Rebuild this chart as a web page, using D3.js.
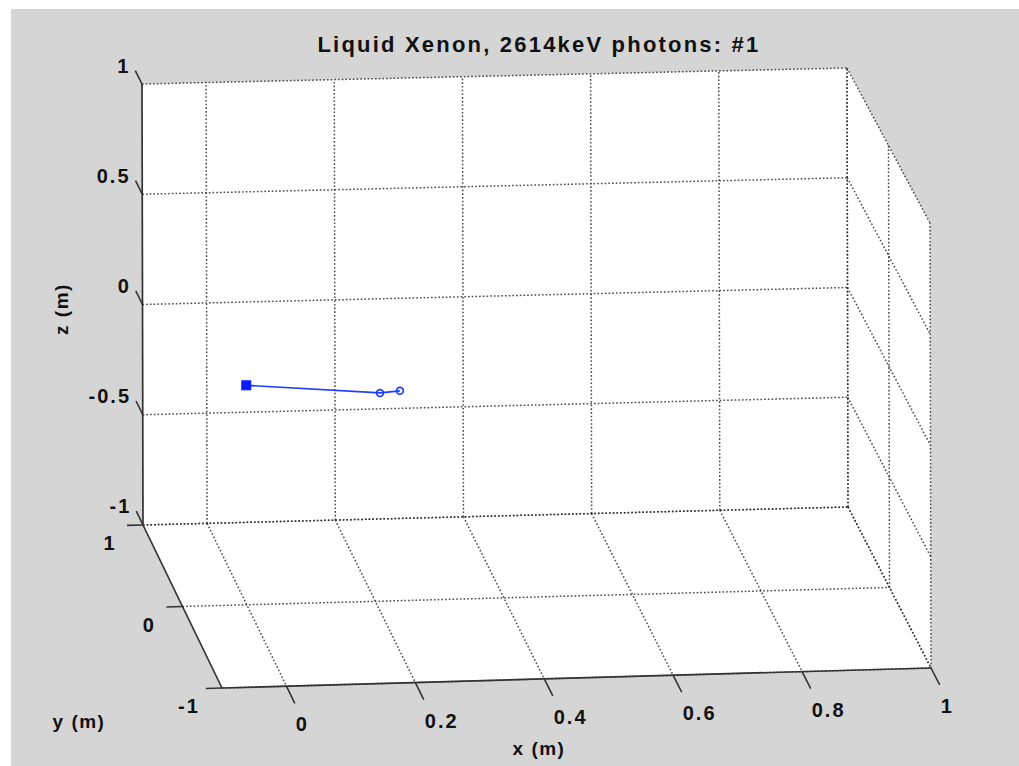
<!DOCTYPE html>
<html>
<head>
<meta charset="utf-8">
<script src="https://cdn.jsdelivr.net/npm/d3@7"></script>
<style>
  html, body { margin: 0; padding: 0; background: #ffffff; }
  svg { display: block; }
  text { font-family: "Liberation Sans", Arial, Helvetica, sans-serif; font-weight: bold; fill: #111; }
</style>
</head>
<body>
<svg id="chart" width="1019" height="766"></svg>
<script>
// ---------------- data ----------------
const titleText = "Liquid Xenon, 2614keV photons: #1";
const xDomain = [-0.1, 1];
const yDomain = [-1, 1];
const zDomain = [-1, 1];
const xTicks = [0, 0.2, 0.4, 0.6, 0.8, 1];
const yTicks = [-1, 0, 1];
const zTicks = [-1, -0.5, 0, 0.5, 1];
const xTickLabels = ["0", "0.2", "0.4", "0.6", "0.8", "1"];
const yTickLabels = ["-1", "0", "1"];
const zTickLabels = ["-1", "-0.5", "0", "0.5", "1"];
// photon track (interaction points)
const trackX = [0, 0.208, 0.239];
const trackY = [0, 0, 0];
const trackZ = [-0.01, -0.06, -0.053];
const markerKinds = ["square", "circle", "circle"];

// ---------------- projection ----------------
const svg = d3.select("#chart");
const W = 1019, H = 766;

const u = d3.scaleLinear().domain(xDomain).range([0, 1]);
const v = d3.scaleLinear().domain([yDomain[1], yDomain[0]]).range([0, 1]); // back (y=1) -> front (y=-1)
const w = d3.scaleLinear().domain(zDomain).range([0, 1]);

// screen positions of the eight box corners [u][v][w]
const corner = {
  "000": [143, 525], "100": [848, 507], "010": [222, 688], "110": [931, 668],
  "001": [142, 84],  "101": [847, 68],  "011": [221, 242], "111": [930, 223]
};
function lerp(a, b, t) { return [a[0] + (b[0] - a[0]) * t, a[1] + (b[1] - a[1]) * t]; }
function P(x, y, z) {
  const a = u(x), b = v(y), c = w(z);
  const c00 = lerp(corner["000"], corner["100"], a);
  const c10 = lerp(corner["010"], corner["110"], a);
  const c01 = lerp(corner["001"], corner["101"], a);
  const c11 = lerp(corner["011"], corner["111"], a);
  const c0 = lerp(c00, c10, b);
  const c1 = lerp(c01, c11, b);
  return lerp(c0, c1, c);
}
const line = d3.line();

// ---------------- background ----------------
svg.append("rect").attr("x", 0).attr("y", 0).attr("width", W).attr("height", H).attr("fill", "#ffffff");
svg.append("rect").attr("x", 11).attr("y", 9).attr("width", W - 11).attr("height", H - 9).attr("fill", "#d5d5d5");

const [x0, x1] = xDomain, [y0, y1] = yDomain, [z0, z1] = zDomain;

const walls = [
  [P(x0, y1, z0), P(x1, y1, z0), P(x1, y1, z1), P(x0, y1, z1)],
  [P(x0, y1, z0), P(x1, y1, z0), P(x1, y0, z0), P(x0, y0, z0)],
  [P(x1, y1, z0), P(x1, y0, z0), P(x1, y0, z1), P(x1, y1, z1)]
];
svg.append("g").selectAll("path").data(walls).join("path")
  .attr("d", d => line(d) + "Z").attr("fill", "#ffffff").attr("stroke", "none");

// ---------------- grid lines ----------------
const grid = [];
xTicks.forEach(t => grid.push([P(t, y1, z0), P(t, y1, z1)]));
zTicks.forEach(t => grid.push([P(x0, y1, t), P(x1, y1, t)]));
xTicks.forEach(t => grid.push([P(t, y1, z0), P(t, y0, z0)]));
yTicks.forEach(t => grid.push([P(x0, t, z0), P(x1, t, z0)]));
yTicks.forEach(t => grid.push([P(x1, t, z0), P(x1, t, z1)]));
zTicks.forEach(t => grid.push([P(x1, y1, t), P(x1, y0, t)]));

svg.append("g").selectAll("path").data(grid).join("path")
  .attr("d", d => line(d))
  .attr("fill", "none")
  .attr("stroke", "#2a2a2a")
  .attr("stroke-opacity", 0.85)
  .attr("stroke-width", 1.5)
  .attr("stroke-dasharray", "1.6,2.1");

// ---------------- axes ----------------
const axisColor = "#333";
const axes = [
  [P(x0, y1, z0), P(x0, y1, z1)],
  [P(x0, y1, z0), P(x0, y0, z0)],
  [P(x0, y0, z0), P(x1, y0, z0)]
];
svg.append("g").selectAll("path").data(axes).join("path")
  .attr("d", d => line(d)).attr("fill", "none")
  .attr("stroke", axisColor).attr("stroke-width", 1.7);

const xTickLen = 0.21 * (y1 - y0) / 2;
const zTickLen = 0.17 * (y1 - y0) / 2;
const yTickLen = 0.025 * (x1 - x0) / 1.1;
const tickSegs = [];
xTicks.forEach(t => tickSegs.push([P(t, y0, z0), P(t, y0 - xTickLen, z0)]));
zTicks.forEach(t => tickSegs.push([P(x0, y1, t), P(x0, y1 + zTickLen, t)]));
yTicks.forEach(t => tickSegs.push([P(x0, t, z0), P(x0 - yTickLen, t, z0)]));
svg.append("g").selectAll("path").data(tickSegs).join("path")
  .attr("d", d => line(d)).attr("fill", "none")
  .attr("stroke", axisColor).attr("stroke-width", 1.6);

// tick labels
const gLab = svg.append("g").attr("font-size", 20).attr("letter-spacing", 2);
xTicks.forEach((t, i) => {
  const e = P(t, y0 - xTickLen, z0);
  gLab.append("text").attr("x", e[0] + 1).attr("y", e[1] + 21)
    .attr("dominant-baseline", "central").attr("text-anchor", "start").text(xTickLabels[i]);
});
zTicks.forEach((t, i) => {
  const e = P(x0, y1 + zTickLen, t);
  gLab.append("text").attr("x", e[0] - 5).attr("y", e[1] - 5)
    .attr("dominant-baseline", "central").attr("text-anchor", "end").text(zTickLabels[i]);
});
yTicks.forEach((t, i) => {
  const e = P(x0 - yTickLen, t, z0);
  gLab.append("text").attr("x", e[0] - 17).attr("y", e[1] + 18)
    .attr("dominant-baseline", "central").attr("text-anchor", "middle").text(yTickLabels[i]);
});

// axis labels
const gAx = svg.append("g").attr("font-size", 19).attr("letter-spacing", 1.5);
gAx.append("text").attr("x", 539).attr("y", 748).attr("text-anchor", "middle")
  .attr("dominant-baseline", "central").text("x (m)");
gAx.append("text").attr("x", 79).attr("y", 721).attr("text-anchor", "middle")
  .attr("dominant-baseline", "central").text("y (m)");
gAx.append("text").attr("transform", "translate(61,309) rotate(-90)").attr("text-anchor", "middle")
  .attr("dominant-baseline", "central").text("z (m)");

// title
svg.append("text").attr("x", 539).attr("y", 44).attr("text-anchor", "middle")
  .attr("dominant-baseline", "central").attr("font-size", 22).attr("letter-spacing", 2.2)
  .text(titleText);

// ---------------- data track ----------------
const pts = trackX.map((x, i) => P(x, trackY[i], trackZ[i]));
const trackColor = "#1f3dff";
svg.append("path").attr("d", line(pts)).attr("fill", "none")
  .attr("stroke", trackColor).attr("stroke-width", 1.7);
const gm = svg.append("g");
pts.forEach((p, i) => {
  if (markerKinds[i] === "square") {
    gm.append("rect").attr("x", p[0] - 4.5).attr("y", p[1] - 4.5).attr("width", 9).attr("height", 9)
      .attr("fill", "#0a1cff").attr("stroke", "#0a1cff").attr("stroke-width", 1);
  } else {
    gm.append("circle").attr("cx", p[0]).attr("cy", p[1]).attr("r", 3.4)
      .attr("fill", "none").attr("stroke", trackColor).attr("stroke-width", 1.7);
  }
});
</script>
</body>
</html>
